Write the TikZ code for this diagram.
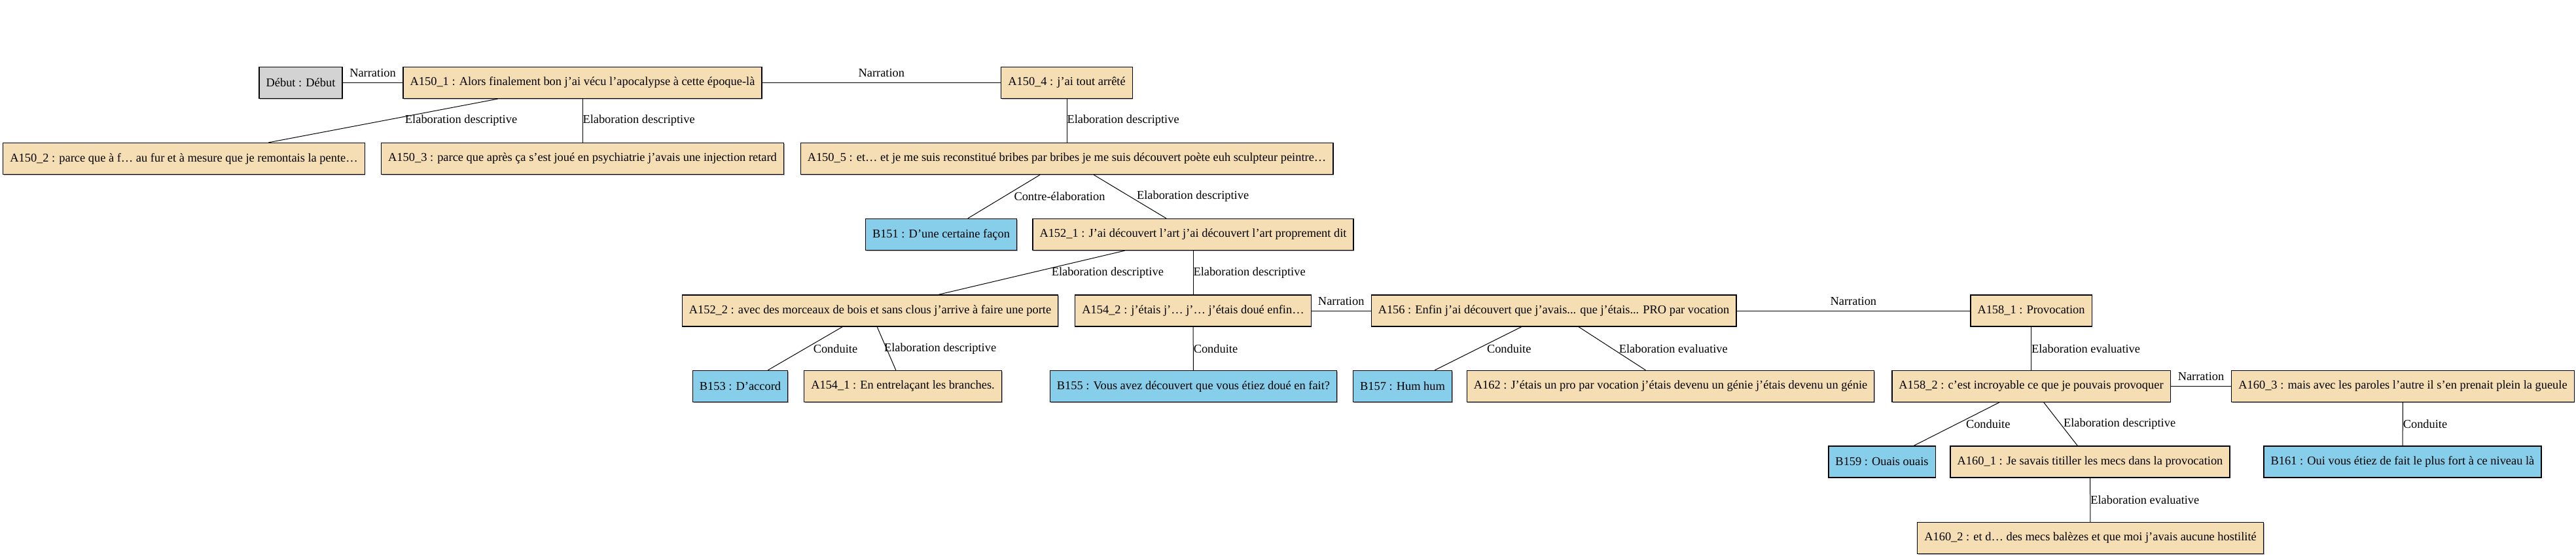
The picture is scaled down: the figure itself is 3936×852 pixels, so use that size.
\documentclass[tikz,border=0pt]{standalone}
\usepackage{fontspec}
\setmainfont{Liberation Serif}
\usepackage{xcolor}
\definecolor{wheat}{RGB}{245,222,179}
\definecolor{skyblue}{RGB}{135,206,235}
\definecolor{lgray}{RGB}{211,211,211}
\usetikzlibrary{positioning, shadows}
\newcommand{\txtsize}{\fontsize{9.2}{11}\selectfont}
\tikzstyle{Box} = [
draw,
line width=0.65pt,
rectangle,
minimum height=24pt,
inner xsep=5.3pt,
font=\txtsize,
drop shadow={shadow xshift=0.6pt, shadow yshift=-0.6pt, fill=black!35, opacity=1}]
\tikzstyle{BoxA} = [Box, fill=wheat]
\tikzstyle{BoxB} = [Box, fill=skyblue]
\tikzstyle{BoxStart} = [Box, fill=lgray]
\tikzstyle{Edge} = [line width=0.5pt]
\tikzstyle{Lbl} = [midway, anchor=west, inner sep=0pt, font=\txtsize]
\tikzstyle{LblN} = [midway, anchor=south, inner sep=0pt, yshift=4pt, font=\txtsize]

\begin{document}
\begin{tikzpicture}[x=0.5pt, y=-0.5pt]
    \useasboundingbox (0,0) rectangle (3936,852);

    \node [BoxStart] (debut) at (459.5,126.5) {Début : Début};
    \node [BoxA] (a150-1) at (890,126.5) {A150\_1 : Alors finalement bon j’ai vécu l’apocalypse à cette époque-là};
    \node [BoxA] (a150-4) at (1630,126.5) {A150\_4 : j’ai tout arrêté};
    \node [BoxA] (a150-2) at (281,242.5) {A150\_2 : parce que à f… au fur et à mesure que je remontais la pente…};
    \node [BoxA] (a150-3) at (890,242.5) {A150\_3 : parce que après ça s’est joué en psychiatrie j’avais une injection retard};
    \node [BoxA] (a150-5) at (1630,242.5) {A150\_5 : et… et je me suis reconstitué bribes par bribes je me suis découvert poète euh sculpteur peintre…};
    \node [BoxB] (b151) at (1438,358.5) {B151 : D’une certaine façon};
    \node [BoxA] (a152-1) at (1823,358.5) {A152\_1 : J’ai découvert l’art j’ai découvert l’art proprement dit};
    \node [BoxA] (a152-2) at (1329.5,475) {A152\_2 : avec des morceaux de bois et sans clous j’arrive à faire une porte};
    \node [BoxA] (a154-2) at (1823,475) {A154\_2 : j’étais j’… j’… j’étais doué enfin…};
    \node [BoxA] (a156) at (2374,475) {A156 : Enfin j’ai découvert que j’avais... que j’étais... PRO par vocation};
    \node [BoxA] (a158-1) at (3103.5,475) {A158\_1 : Provocation};
    \node [BoxB] (b153) at (1131,590.5) {B153 : D’accord};
    \node [BoxA] (a154-1) at (1379.5,590.5) {A154\_1 : En entrelaçant les branches.};
    \node [BoxB] (b155) at (1823.5,590.5) {B155 : Vous avez découvert que vous étiez doué en fait?};
    \node [BoxB] (b157) at (2143,590.5) {B157 : Hum hum};
    \node [BoxA] (a162) at (2552.5,590.5) {A162 : J’étais un pro par vocation j’étais devenu un génie j’étais devenu un génie};
    \node [BoxA] (a158-2) at (3103.5,590.5) {A158\_2 : c’est incroyable ce que je pouvais provoquer};
    \node [BoxA] (a160-3) at (3671.5,590.5) {A160\_3 : mais avec les paroles l’autre il s’en prenait plein la gueule};
    \node [BoxB] (b159) at (2875.5,706) {B159 : Ouais ouais};
    \node [BoxA] (a160-1) at (3193.5,706) {A160\_1 : Je savais titiller les mecs dans la provocation};
    \node [BoxB] (b161) at (3671,706) {B161 : Oui vous étiez de fait le plus fort à ce niveau là};
    \node [BoxA] (a160-2) at (3194,822.5) {A160\_2 : et d… des mecs balèzes et que moi j’avais aucune hostilité};

    \draw[Edge] (debut) -- node[LblN] {Narration} (a150-1);
    \draw[Edge] (a150-1) -- node[LblN] {Narration} (a150-4);
    \draw[Edge] (a150-1) -- node[Lbl, xshift=16.5pt] {Elaboration descriptive} (a150-2);
    \draw[Edge] (a150-1) -- node[Lbl] {Elaboration descriptive} (a150-3);
    \draw[Edge] (a150-4) -- node[Lbl] {Elaboration descriptive} (a150-5);
    \draw[Edge] (a150-5) -- node[Lbl, xshift=7.5pt] {Contre-élaboration} (b151);
    \draw[Edge] (a150-5) -- node[Lbl, xshift=5pt] {Elaboration descriptive} (a152-1);
    \draw[Edge] (a152-1) -- node[Lbl, xshift=15pt] {Elaboration descriptive} (a152-2);
    \draw[Edge] (a152-1) -- node[Lbl] {Elaboration descriptive} (a154-2);
    \draw[Edge] (a152-2) -- node[Lbl, xshift=6pt] {Conduite} (b153);
    \draw[Edge] (a152-2) -- node[Lbl, xshift=-2pt] {Elaboration descriptive} (a154-1);
    \draw[Edge] (a154-2) -- node[Lbl] {Conduite} (b155);
    \draw[Edge] (a154-2) -- node[LblN] {Narration} (a156);
    \draw[Edge] (a156) -- node[Lbl, xshift=6.5pt] {Conduite} (b157);
    \draw[Edge] (a156) -- node[Lbl, xshift=5pt] {Elaboration evaluative} (a162);
    \draw[Edge] (a156) -- node[LblN] {Narration} (a158-1);
    \draw[Edge] (a158-1) -- node[Lbl] {Elaboration evaluative} (a158-2);
    \draw[Edge] (a158-2) -- node[LblN] {Narration} (a160-3);
    \draw[Edge] (a158-2) -- node[Lbl, xshift=7pt] {Conduite} (b159);
    \draw[Edge] (a158-2) -- node[Lbl, xshift=2pt] {Elaboration descriptive} (a160-1);
    \draw[Edge] (a160-3) -- node[Lbl] {Conduite} (b161);
    \draw[Edge] (a160-1) -- node[Lbl] {Elaboration evaluative} (a160-2);
\end{tikzpicture}
\end{document}
